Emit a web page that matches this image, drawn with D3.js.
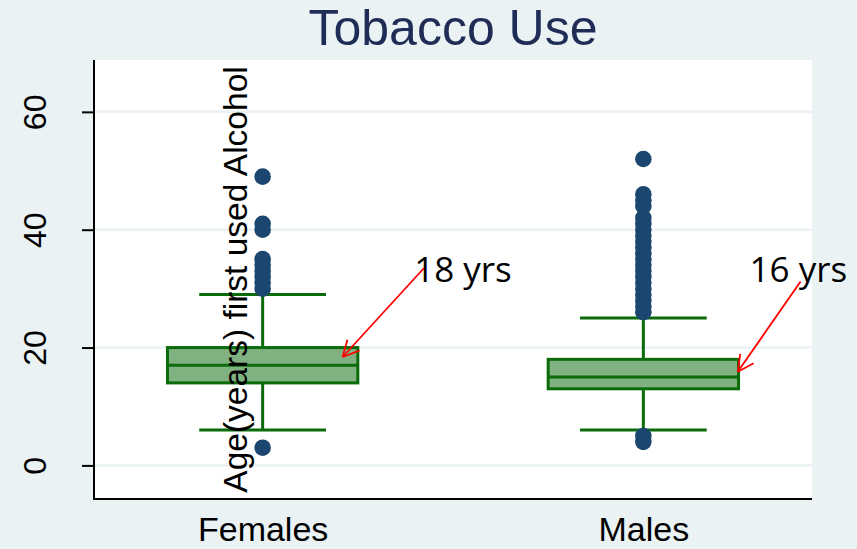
<!DOCTYPE html>
<html><head><meta charset="utf-8">
<script src="https://cdn.jsdelivr.net/npm/d3@7"></script>
<style>html,body{margin:0;padding:0;background:#EAF2F3;}svg{display:block;}</style>
</head><body>
<svg id="c" width="857" height="549"></svg>
<script>
const categories = ["Females", "Males"];
const q1 = [14, 13];
const medians = [17, 15];
const q3 = [20, 18];
const whiskerLow = [6, 6];
const whiskerHigh = [29, 25];
const outliersFemales = [3, 30, 31, 32, 33, 34, 35, 40, 41, 49];
const outliersMales = [4, 5, 26, 27, 28, 29, 30, 31, 32, 33, 34, 35, 36, 37, 38, 39, 40, 41, 42, 44, 45, 46, 52];
const yTicks = [0, 20, 40, 60];
const titleText = "Tobacco Use";
const yTitle = "Age(years) first used Alcohol";
const annotLabels = ["18 yrs", "16 yrs"];
const annotTipY = [18.4, 15.9];
const annotStartY = [33.5, 31.2];
const annotTextY = [31.1, 31.1];

const svg = d3.select("#c");
const W = 857, H = 549;
const plot = {left: 94, right: 812, top: 60, bottom: 499};

svg.append("rect").attr("width", W).attr("height", H).attr("fill", "#EAF2F3");
svg.append("rect").attr("x", plot.left).attr("y", plot.top)
  .attr("width", plot.right - plot.left).attr("height", plot.bottom - plot.top).attr("fill", "#ffffff");

const y = d3.scaleLinear().domain([-5.7, 68.8]).range([plot.bottom, plot.top]);
const x = d3.scalePoint().domain(categories).range([plot.left, plot.right]).padding(0.443);
const step = x.step();

// gridlines
svg.append("g").selectAll("line").data(yTicks).join("line")
  .attr("x1", plot.left).attr("x2", plot.right)
  .attr("y1", d => y(d)).attr("y2", d => y(d))
  .attr("stroke", "#EAF2F3").attr("stroke-width", 2.5);

// y axis
const yAxis = d3.axisLeft(y).tickValues(yTicks).tickSize(12).tickPadding(0);
const gy = svg.append("g").attr("transform", `translate(${plot.left},0)`).call(yAxis);
gy.select(".domain").remove();
gy.selectAll(".tick line").attr("stroke", "#000").attr("stroke-width", 2);
gy.selectAll(".tick text").attr("transform", "rotate(-90)")
  .attr("x", 0).attr("y", -59).attr("dy", "0.35em")
  .attr("text-anchor", "middle")
  .attr("font-family", "Liberation Sans, Arial, sans-serif").attr("font-size", 32).attr("fill", "#000");

// x axis
const xAxis = d3.axisBottom(x).tickSize(0).tickPadding(0);
const gx = svg.append("g").attr("transform", `translate(0,${plot.bottom})`).call(xAxis);
gx.select(".domain").remove();
gx.selectAll(".tick text").attr("y", 42).attr("dy", 0)
  .attr("font-family", "Liberation Sans, Arial, sans-serif").attr("font-size", 34).attr("fill", "#000");

// axis lines
svg.append("line").attr("x1", plot.left).attr("x2", plot.left).attr("y1", plot.top).attr("y2", plot.bottom + 1)
  .attr("stroke", "#000").attr("stroke-width", 2);
svg.append("line").attr("x1", plot.left - 1).attr("x2", plot.right).attr("y1", plot.bottom).attr("y2", plot.bottom)
  .attr("stroke", "#000").attr("stroke-width", 2);

// boxes
const green = "#0a6b0a";
const boxW = step * 0.5, capW = step * 0.333;
const bx = svg.append("g");
categories.forEach((c, i) => {
  const cx = x(c);
  bx.append("line").attr("x1", cx).attr("x2", cx).attr("y1", y(whiskerHigh[i])).attr("y2", y(q3[i]))
    .attr("stroke", green).attr("stroke-width", 3);
  bx.append("line").attr("x1", cx).attr("x2", cx).attr("y1", y(q1[i])).attr("y2", y(whiskerLow[i]))
    .attr("stroke", green).attr("stroke-width", 3);
  [whiskerHigh[i], whiskerLow[i]].forEach(v => {
    bx.append("line").attr("x1", cx - capW / 2).attr("x2", cx + capW / 2).attr("y1", y(v)).attr("y2", y(v))
      .attr("stroke", green).attr("stroke-width", 3);
  });
  bx.append("rect").attr("x", cx - boxW / 2).attr("y", y(q3[i]))
    .attr("width", boxW).attr("height", y(q1[i]) - y(q3[i]))
    .attr("fill", "#80b180").attr("stroke", green).attr("stroke-width", 3);
  bx.append("line").attr("x1", cx - boxW / 2).attr("x2", cx + boxW / 2).attr("y1", y(medians[i])).attr("y2", y(medians[i]))
    .attr("stroke", green).attr("stroke-width", 3);
});

// outliers
const outs = [outliersFemales, outliersMales];
categories.forEach((c, i) => {
  svg.append("g").selectAll("circle").data(outs[i]).join("circle")
    .attr("cx", x(c)).attr("cy", d => y(d)).attr("r", 8.3).attr("fill", "#1a4670");
});

// y title (inside plot as in the reference)
svg.append("text").attr("transform", `translate(247,${(plot.top + plot.bottom) / 2}) rotate(-90)`)
  .attr("text-anchor", "middle")
  .attr("font-family", "Liberation Sans, Arial, sans-serif").attr("font-size", 33.5).attr("fill", "#000")
  .text(yTitle);

// title
svg.append("text").attr("x", (plot.left + plot.right) / 2).attr("y", 45).attr("text-anchor", "middle")
  .attr("font-family", "Liberation Sans, Arial, sans-serif").attr("font-size", 50).attr("fill", "#1f2d56")
  .text(titleText);

// annotations
const tipOff = [0.21, 0.248], startOff = [0.424, 0.413], textOff = [0.398, 0.279];
categories.forEach((c, i) => {
  const cx = x(c);
  const tx = cx + tipOff[i] * step, ty = y(annotTipY[i]);
  const sx = cx + startOff[i] * step, sy = y(annotStartY[i]);
  svg.append("line").attr("x1", sx).attr("y1", sy).attr("x2", tx).attr("y2", ty)
    .attr("stroke", "#ff0000").attr("stroke-width", 1.8);
  const ang = Math.atan2(sy - ty, sx - tx);
  const L = 18, a = 27 * Math.PI / 180;
  [ang - a, ang + a].forEach(t => {
    svg.append("line").attr("x1", tx).attr("y1", ty)
      .attr("x2", tx + L * Math.cos(t)).attr("y2", ty + L * Math.sin(t))
      .attr("stroke", "#ff0000").attr("stroke-width", 1.8);
  });
  svg.append("text").attr("x", cx + textOff[i] * step).attr("y", y(annotTextY[i]))
    .attr("font-family", "Open Sans, sans-serif").attr("font-size", 35).attr("fill", "#000")
    .text(annotLabels[i]);
});
</script>
</body></html>
